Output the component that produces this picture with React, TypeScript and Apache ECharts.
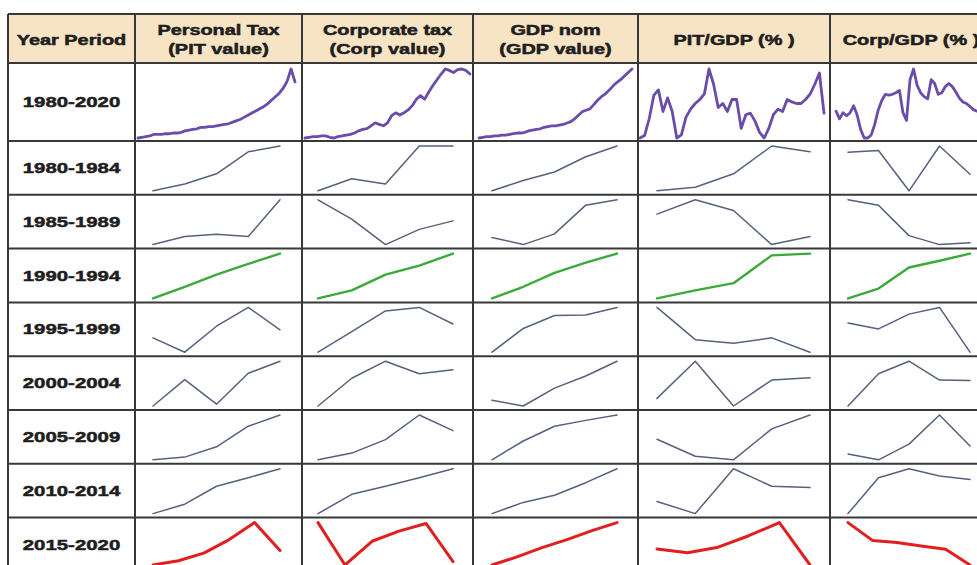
import React, { useEffect, useRef } from "react";
import * as echarts from "echarts";

// ---------- DATA ----------
const headerLines: string[][] = [
  ["Year Period"],
  ["Personal Tax", "(PIT value)"],
  ["Corporate tax", "(Corp value)"],
  ["GDP nom", "(GDP value)"],
  ["PIT/GDP (% )"],
  ["Corp/GDP (% )"],
];

const periods = [
  "1980-2020",
  "1980-1984",
  "1985-1989",
  "1990-1994",
  "1995-1999",
  "2000-2004",
  "2005-2009",
  "2010-2014",
  "2015-2020",
];

// index values (relative level within each cell)
const pitValue: number[][] = [
  [1, 2, 3, 4, 6, 6, 6, 7, 7, 8, 8, 9, 11, 12, 13, 14, 16, 16, 17, 17, 18, 19, 20, 21, 23, 25, 27, 30, 33, 36, 39, 42, 45, 49, 54, 59, 64, 71, 81, 98, 80],
  [0, 15, 38, 87, 100],
  [0, 18, 23, 18, 100],
  [0, 26, 53, 77, 100],
  [32, 0, 58, 100, 50],
  [0, 59, 4, 73, 100],
  [0, 6, 29, 75, 100],
  [0, 21, 61, 80, 100],
  [0, 10, 28, 60, 100, 34],
];

const corpValue: number[][] = [
  [1, 2, 3, 3, 4, 4, 2, 1, 3, 4, 5, 6, 8, 11, 13, 14, 18, 22, 20, 18, 22, 32, 36, 33, 36, 40, 46, 55, 60, 55, 65, 74, 82, 90, 97, 95, 92, 96, 97, 95, 90],
  [0, 27, 15, 100, 100],
  [100, 57, 0, 34, 53],
  [0, 18, 53, 73, 100],
  [0, 46, 92, 100, 63],
  [0, 62, 100, 72, 81],
  [0, 15, 45, 100, 65],
  [0, 43, 61, 80, 100],
  [100, 0, 56, 80, 98, 8],
];

const gdpValue: number[][] = [
  [1, 2, 3, 3, 4, 4, 5, 5, 6, 7, 8, 8, 9, 11, 12, 13, 14, 16, 17, 18, 18, 19, 20, 22, 24, 28, 33, 38, 40, 42, 48, 54, 59, 63, 68, 74, 79, 83, 88, 93, 98],
  [0, 23, 42, 76, 100],
  [16, 0, 24, 88, 100],
  [0, 26, 57, 80, 100],
  [0, 53, 82, 83, 100],
  [13, 0, 40, 67, 100],
  [0, 42, 75, 88, 100],
  [0, 25, 41, 69, 100],
  [0, 19, 41, 60, 81, 100],
];

const pitGdp: number[][] = [
  [9, 12, 33, 62, 69, 42, 59, 42, 9, 13, 35, 45, 52, 57, 64, 95, 76, 47, 52, 42, 57, 57, 21, 38, 40, 30, 16, 9, 21, 38, 45, 42, 57, 54, 52, 52, 57, 64, 76, 90, 40],
  [0, 8, 38, 100, 87],
  [68, 100, 76, 0, 18],
  [0, 18, 34, 96, 100],
  [100, 28, 20, 32, 0],
  [17, 100, 0, 58, 63],
  [46, 8, 0, 69, 100],
  [27, 0, 100, 61, 58],
  [38, 29, 42, 69, 100, 0],
];

const corpGdp: number[][] = [
  [40, 30, 38, 34, 38, 47, 35, 16, 5, 5, 9, 23, 42, 54, 62, 61, 62, 64, 67, 38, 28, 81, 95, 74, 64, 59, 56, 81, 76, 62, 64, 72, 76, 72, 65, 57, 52, 50, 46, 42, 40],
  [86, 90, 0, 100, 37],
  [100, 88, 20, 0, 4],
  [0, 22, 69, 84, 100],
  [65, 52, 85, 100, 0],
  [0, 72, 100, 58, 57],
  [13, 0, 35, 100, 31],
  [0, 80, 100, 84, 76],
  [100, 58, 53, 45, 37, 0],
];

const columnsData = [pitValue, corpValue, gdpValue, pitGdp, corpGdp];

// ---------- LAYOUT / STYLE ----------
const colEdges = [8, 135, 302, 473, 638, 830, 992];
const headerTop = 14;
const headerBottom = 63;
const firstRowBottom = 141;
const rowH = 53.8;
const rowEdges: number[] = [headerTop, headerBottom, firstRowBottom];
for (let k = 1; k <= 8; k++) rowEdges.push(firstRowBottom + rowH * k);

// horizontal insets of sparklines [left, right]
const firstRowInset = [
  [3, 7],
  [3, 3],
  [6, 6],
  [2, 6],
  [6, 6],
];
const otherRowInset = [
  [18, 22],
  [16, 20],
  [19, 21],
  [19, 20],
  [18, 22],
];

const rowStyle = (r: number) => {
  if (r === 0) return { color: "#6a4cab", width: 2.8 };
  if (r === 3) return { color: "#3aaa3a", width: 2.4 };
  if (r === 8) return { color: "#e11f1f", width: 3 };
  return { color: "#56617f", width: 1.5 };
};

export default function App() {
  const ref = useRef<HTMLDivElement>(null);

  useEffect(() => {
    if (!ref.current) return;
    const chart = echarts.init(ref.current, undefined, { renderer: "svg" });

    const grids: any[] = [];
    const xAxes: any[] = [];
    const yAxes: any[] = [];
    const series: any[] = [];

    periods.forEach((_, r) => {
      const top = rowEdges[r + 1];
      const bottom = rowEdges[r + 2];
      const padTop = r === 0 ? 6 : 5;
      const padBottom = r === 0 ? 3 : 4;
      columnsData.forEach((col, c) => {
        const data = col[r];
        const inset = r === 0 ? firstRowInset[c] : otherRowInset[c];
        const left = colEdges[c + 1] + inset[0];
        const width = colEdges[c + 2] - inset[1] - left;
        const idx = grids.length;
        grids.push({
          left,
          top: top + padTop,
          width,
          height: bottom - top - padTop - padBottom,
          containLabel: false,
        });
        xAxes.push({
          type: "category",
          gridIndex: idx,
          boundaryGap: false,
          data: data.map((_, i) => String(i)),
          show: false,
        });
        yAxes.push({
          type: "value",
          gridIndex: idx,
          min: "dataMin",
          max: "dataMax",
          show: false,
        });
        const st = rowStyle(r);
        series.push({
          type: "line",
          xAxisIndex: idx,
          yAxisIndex: idx,
          data,
          showSymbol: false,
          symbol: "none",
          lineStyle: { color: st.color, width: st.width, join: "round", cap: "round" },
          clip: false,
          silent: true,
        });
      });
    });

    const graphics: any[] = [];
    // header background
    graphics.push({
      type: "rect",
      shape: { x: colEdges[0], y: headerTop, width: colEdges[6] - colEdges[0], height: headerBottom - headerTop },
      style: { fill: "#f7e4c4" },
      z: -10,
    });
    // grid lines
    rowEdges.forEach((y) => {
      graphics.push({
        type: "line",
        shape: { x1: colEdges[0], y1: y, x2: colEdges[6], y2: y },
        style: { stroke: "#383838", lineWidth: 2 },
        z: 5,
      });
    });
    colEdges.forEach((x) => {
      graphics.push({
        type: "line",
        shape: { x1: x, y1: headerTop, x2: x, y2: rowEdges[rowEdges.length - 1] },
        style: { stroke: "#383838", lineWidth: 2 },
        z: 5,
      });
    });
    // header texts
    headerLines.forEach((lines, c) => {
      const cx = (colEdges[c] + colEdges[c + 1]) / 2;
      const ys = lines.length === 1 ? [40] : [30, 49];
      lines.forEach((t, i) => {
        graphics.push({
          type: "text",
          x: cx,
          y: ys[i],
          scaleX: 1.42,
          z: 6,
          style: {
            text: t,
            font: 'bold 14px "Liberation Sans", Arial, sans-serif',
            fill: "#1e1e1e",
            stroke: "#1e1e1e",
            lineWidth: 0.5,
            align: "center",
            verticalAlign: "middle",
          },
        });
      });
    });
    // row labels
    periods.forEach((p, r) => {
      const cy = (rowEdges[r + 1] + rowEdges[r + 2]) / 2;
      graphics.push({
        type: "text",
        x: (colEdges[0] + colEdges[1]) / 2,
        y: cy,
        scaleX: 1.36,
        z: 6,
        style: {
          text: p,
          font: 'bold 15px "Liberation Sans", Arial, sans-serif',
          fill: "#1e1e1e",
          stroke: "#1e1e1e",
          lineWidth: 0.5,
          align: "center",
          verticalAlign: "middle",
        },
      });
    });

    chart.setOption({
      animation: false,
      backgroundColor: "#ffffff",
      grid: grids,
      xAxis: xAxes,
      yAxis: yAxes,
      series,
      graphic: { elements: graphics },
    });

    return () => chart.dispose();
  }, []);

  return (
    <div
      ref={ref}
      style={{ position: "fixed", left: 0, top: 0, width: 977, height: 565 }}
    />
  );
}
